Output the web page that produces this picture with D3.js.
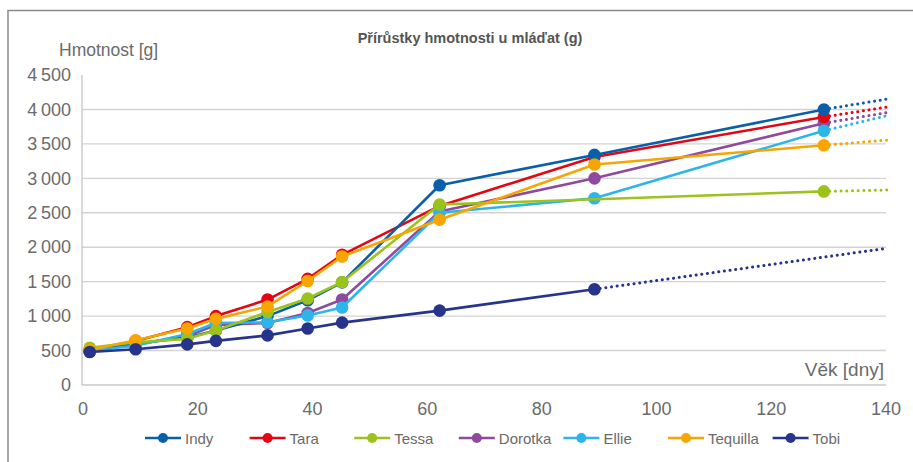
<!DOCTYPE html>
<html><head><meta charset="utf-8">
<script src="https://cdn.jsdelivr.net/npm/d3@7"></script>
<style>
body{margin:0;background:#fff}
text{font-family:"Liberation Sans",Arial,sans-serif;}
</style>
</head><body>
<svg id="c" width="913" height="462"></svg>
<script>
// ---- data ----
const days = [1, 9, 18, 23, 32, 39, 45, 62, 89, 129];
const names = ["Indy", "Tara", "Tessa", "Dorotka", "Ellie", "Tequilla", "Tobi"];
const colors = ["#0a5faa", "#e30613", "#9bc31c", "#8e4a9c", "#2db5e9", "#f7a500", "#27348b"];
const indy     = [490, 600, 690, 790, 1000, 1230, 1490, 2900, 3340, 4000];
const tara     = [500, 640, 840, 1000, 1240, 1540, 1890, 2600, 3310, 3890];
const tessa    = [540, 620, 670, 790, 1060, 1255, 1495, 2620, null, 2810];
const dorotka  = [490, 590, 710, 870, 900, 1045, 1240, 2520, 3000, 3800];
const ellie    = [500, 570, 740, 900, 910, 1010, 1125, 2500, 2710, 3690];
const tequilla = [510, 650, 820, 960, 1140, 1510, 1865, 2400, 3200, 3480];
const tobi     = [480, 520, 590, 640, 720, 820, 905, 1080, 1390, null];
const trendDay = 140;
const trendEnd = [4150, 4035, 2830, 3955, 3910, 3555, 1985];
const yTicks = [0, 500, 1000, 1500, 2000, 2500, 3000, 3500, 4000, 4500];
const xTicks = [0, 20, 40, 60, 80, 100, 120, 140];
const title = "Přírůstky hmotnosti u mláďat (g)";
const yTitle = "Hmotnost [g]";
const xTitle = "Věk [dny]";

const values = [indy, tara, tessa, dorotka, ellie, tequilla, tobi];
const drawOrder = [3, 1, 0, 4, 2, 5, 6];

// ---- chart ----
const svg = d3.select("#c");
const x = d3.scaleLinear().domain([0, 140]).range([84, 887]);
const y = d3.scaleLinear().domain([0, 4500]).range([385, 75]);
const loc = d3.formatLocale({decimal: ",", thousands: "\u2009", grouping: [3]});
const fmt = loc.format(",");

// frame
svg.append("path").attr("d", "M8,462V10.5H913").attr("fill", "none")
  .attr("stroke", "#8a8a8a").attr("stroke-width", 1.5);

// gridlines
svg.append("g").selectAll("line").data(yTicks.filter(d => d > 0 && d < 4500)).join("line")
  .attr("x1", x(0) - 2).attr("x2", x(140) - 1).attr("y1", d => y(d)).attr("y2", d => y(d))
  .attr("stroke", "#d3d3d3").attr("stroke-width", 1.4);

// axes
const yAxis = svg.append("g").attr("transform", `translate(${x(0) - 2},0)`)
  .call(d3.axisLeft(y).tickValues(yTicks).tickSize(0).tickPadding(11).tickFormat(fmt));
const xAxis = svg.append("g").attr("transform", `translate(0,${y(0)})`)
  .call(d3.axisBottom(x).tickValues(xTicks).tickSize(0).tickPadding(17));
[yAxis, xAxis].forEach(a => {
  a.select(".domain").attr("stroke", "#c8c8c8").attr("stroke-width", 1.4);
  a.selectAll("text").attr("fill", "#6b6b6b").style("font-size", "18px")
   .style("font-family", '"Liberation Sans",Arial,sans-serif');
});
xAxis.selectAll(".tick").attr("transform", d => `translate(${x(d) - 1},0)`);
yAxis.select(".domain").attr("d", `M0,${y(4500)}V${y(0)}`);
xAxis.select(".domain").attr("d", `M${x(0) - 2},0H${x(140) - 1}`);

// titles
svg.append("text").attr("x", 470).attr("y", 43).attr("text-anchor", "middle")
  .attr("fill", "#555").style("font-size", "14.5px").style("font-weight", "bold").text(title);
svg.append("text").attr("x", 59).attr("y", 56).attr("fill", "#6b6b6b")
  .style("font-size", "17.5px").text(yTitle);
svg.append("text").attr("x", 884).attr("y", 376).attr("text-anchor", "end").attr("fill", "#6b6b6b")
  .style("font-size", "19px").text(xTitle);

// series
const line = d3.line().x(d => x(d[0])).y(d => y(d[1]));
const plot = svg.append("g");
drawOrder.forEach(i => {
  const pts = days.map((d, j) => [d, values[i][j]]);
  const valid = pts.filter(p => p[1] != null);
  const last = valid[valid.length - 1];
  const g = plot.append("g");
  g.append("path").attr("d", line([last, [trendDay, trendEnd[i]]]))
    .attr("fill", "none").attr("stroke", colors[i]).attr("stroke-width", 3)
    .attr("stroke-linecap", "round").attr("stroke-dasharray", "0.1 5.6");
  g.append("path").attr("d", line(valid)).attr("fill", "none")
    .attr("stroke", colors[i]).attr("stroke-width", 2.6).attr("stroke-linejoin", "round");
  g.selectAll("circle").data(valid).join("circle")
    .attr("cx", d => x(d[0])).attr("cy", d => y(d[1])).attr("r", 6.3).attr("fill", colors[i]);
});

// legend
const leg = svg.append("g");
names.forEach((n, i) => {
  const lx = 145 + i * 104.6, ly = 438;
  leg.append("line").attr("x1", lx).attr("x2", lx + 36).attr("y1", ly).attr("y2", ly)
    .attr("stroke", colors[i]).attr("stroke-width", 2.6);
  leg.append("circle").attr("cx", lx + 18).attr("cy", ly).attr("r", 5).attr("fill", colors[i]);
  leg.append("text").attr("x", lx + 40).attr("y", ly + 5.5).attr("fill", "#6b6b6b")
    .style("font-size", "15px").text(n);
});
</script>
</body></html>
